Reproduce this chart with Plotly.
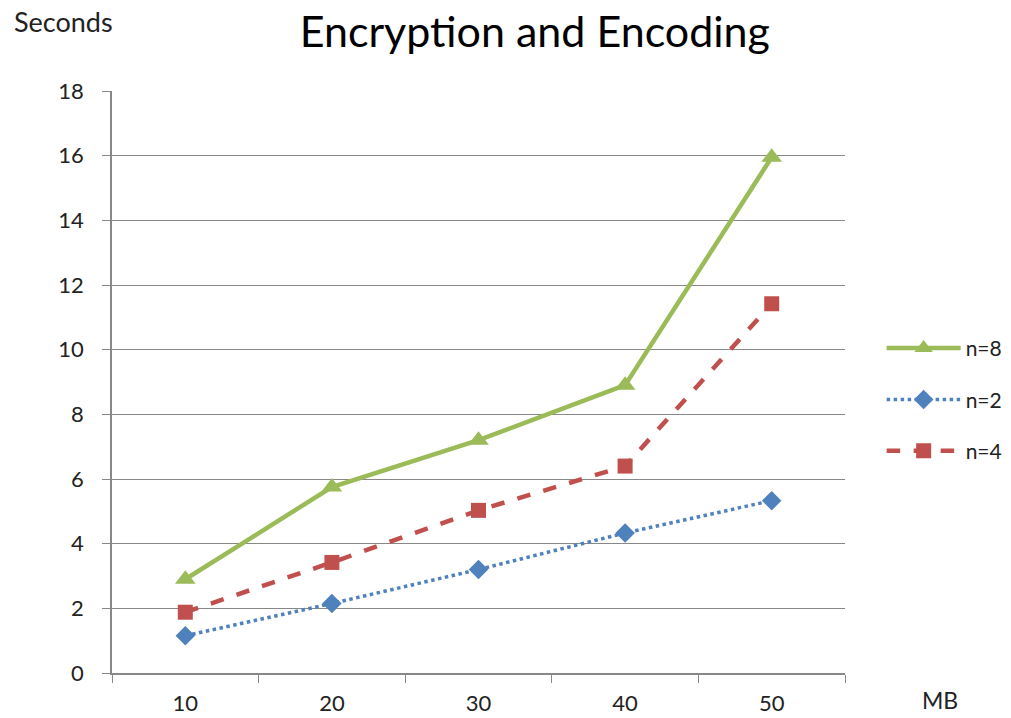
import plotly.graph_objects as go

categories = ["10", "20", "30", "40", "50"]
n8 = [2.9, 5.75, 7.2, 8.9, 15.95]
n2 = [1.15, 2.15, 3.2, 4.33, 5.33]
n4 = [1.88, 3.42, 5.03, 6.4, 11.42]
y_ticks = [0, 2, 4, 6, 8, 10, 12, 14, 16, 18]

FONT = "Lato, Open Sans, sans-serif"
GREEN = "#9BBB59"
BLUE = "#4F81BD"
RED = "#C0504D"

fig = go.Figure()
fig.add_trace(go.Scatter(x=categories, y=n8, name="n=8", mode="lines+markers",
                         line=dict(color=GREEN, width=4.5),
                         marker=dict(symbol="triangle-up", size=18, color=GREEN),
                         legendgroup="a"))
fig.add_trace(go.Scatter(x=categories, y=n2, name="n=2", mode="lines+markers",
                         line=dict(color=BLUE, width=3.5, dash="dot"),
                         marker=dict(symbol="diamond", size=15, color=BLUE),
                         legendgroup="b"))
fig.add_trace(go.Scatter(x=categories, y=n4, name="n=4", mode="lines+markers",
                         line=dict(color=RED, width=4.5, dash="dash"),
                         marker=dict(symbol="square", size=15, color=RED),
                         legendgroup="c"))

fig.update_layout(
    width=1011, height=718,
    margin=dict(l=112, r=166, t=91, b=45, autoexpand=False),
    paper_bgcolor="white", plot_bgcolor="white",
    font=dict(family=FONT, size=20, color="#222"),
    title=dict(text="Encryption and Encoding", x=0.529, xanchor="center",
               y=0.955, yanchor="middle",
               font=dict(family=FONT, size=43, color="black")),
    legend=dict(x=1.05, y=0.47, xanchor="left", yanchor="middle",
                font=dict(size=21), itemwidth=74, tracegroupgap=21,
                traceorder="grouped"),
    showlegend=True,
)
fig.update_xaxes(type="category", range=[-0.5, 4.5], showline=True,
                 linecolor="#888", linewidth=1.5, ticks="outside",
                 tickson="boundaries", ticklen=8, tickcolor="#888",
                 showgrid=False, ticklabelstandoff=10, zeroline=False,
                 automargin=False, tickfont=dict(size=22))
fig.update_yaxes(range=[0, 18], tickvals=y_ticks, showline=True,
                 linecolor="#888", linewidth=1.5, ticks="outside",
                 ticklen=8, tickcolor="#888", showgrid=True,
                 gridcolor="#888", gridwidth=1, zeroline=False,
                 ticklabelstandoff=14, automargin=False, tickfont=dict(size=22))

fig.add_annotation(text="Seconds", xref="paper", yref="paper",
                   x=-0.0655, y=1.1186, xanchor="center", yanchor="middle",
                   showarrow=False, font=dict(size=27, color="#222"))
fig.add_annotation(text="MB", xref="paper", yref="paper",
                   x=1.1296, y=-0.0464, xanchor="center", yanchor="middle",
                   showarrow=False, font=dict(size=23, color="#222"))

fig.write_html("out.html")
